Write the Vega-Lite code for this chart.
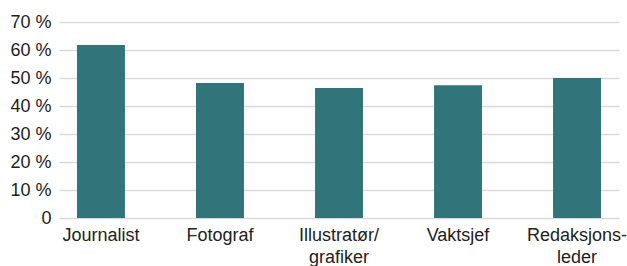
{
  "$schema": "https://vega.github.io/schema/vega-lite/v6.json",
  "autosize": "none",
  "width": 564,
  "height": 196,
  "padding": {"left": 59, "top": 22, "right": 4, "bottom": 48},
  "background": "white",
  "config": {
    "view": {"stroke": null},
    "font": "Liberation Sans"
  },
  "data": {
    "values": [
      {"rolle": "Journalist", "andel": 61.8},
      {"rolle": "Fotograf", "andel": 48.2},
      {"rolle": "Illustratør/grafiker", "andel": 46.4},
      {"rolle": "Vaktsjef", "andel": 47.4},
      {"rolle": "Redaksjonsleder", "andel": 50.0}
    ]
  },
  "mark": {"type": "bar", "color": "#31757a"},
  "encoding": {
    "x": {
      "field": "rolle",
      "type": "nominal",
      "sort": null,
      "scale": {"paddingInner": 0.597, "paddingOuter": 0.151, "range": [0, 560]},
      "axis": {
        "title": null,
        "domain": false,
        "ticks": false,
        "labelAngle": 0,
        "labelFontSize": 18,
        "labelColor": "#222222",
        "labelPadding": 8,
        "labelLineHeight": 22,
        "labelBaseline": "top",
        "labelExpr": "datum.label == 'Illustratør/grafiker' ? ['Illustratør/', 'grafiker'] : datum.label == 'Redaksjonsleder' ? ['Redaksjons-', 'leder'] : datum.label"
      }
    },
    "y": {
      "field": "andel",
      "type": "quantitative",
      "scale": {"domain": [0, 70]},
      "axis": {
        "title": null,
        "values": [0, 10, 20, 30, 40, 50, 60, 70],
        "domain": false,
        "ticks": false,
        "grid": true,
        "gridColor": "#d9d9d9",
        "gridWidth": 1.5,
        "labelFontSize": 18,
        "labelColor": "#222222",
        "labelPadding": 8,
        "labelExpr": "datum.value == 0 ? '0' : datum.value + ' %'"
      }
    }
  }
}
